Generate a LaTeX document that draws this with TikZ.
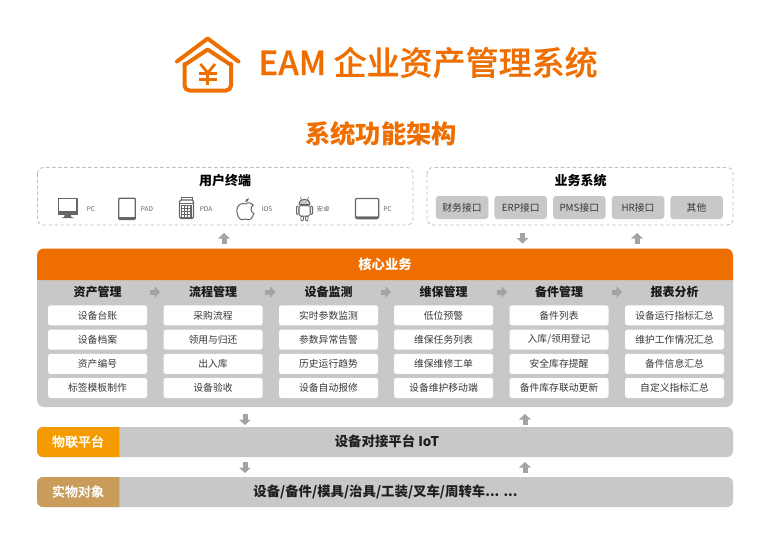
\documentclass[tikz,border=0pt]{standalone}
\usepackage{fontspec}
\setmainfont{Noto Sans CJK SC}
\newfontfamily\medfont[FakeBold=0.5]{Noto Sans CJK SC Medium}
\usetikzlibrary{arrows.meta}
\definecolor{brand}{HTML}{EE6E00}
\definecolor{panel}{HTML}{C8C8C8}
\definecolor{iotc}{HTML}{F59B00}
\definecolor{objc}{HTML}{C99C5C}
\definecolor{ico}{HTML}{666666}
\definecolor{dashc}{HTML}{BDBDBD}
\definecolor{arrowc}{HTML}{A3A3A3}
\tikzset{
  x=1pt,y=-1pt,
  every node/.style={inner sep=0pt,outer sep=0pt,font=\fontsize{9.8}{11}\selectfont,text=black!78},
  dashbox/.style={draw=dashc,line width=.8pt,dash pattern=on 3.5pt off 2.5pt,rounded corners=6pt},
  grp/.style={font=\fontsize{13}{15}\selectfont\bfseries,text=black},
  hdr/.style={font=\fontsize{12}{14}\selectfont\bfseries,text=black!90},
  itembox/.style={fill=white,rounded corners=2.5pt,minimum width=99pt,minimum height=20pt},
  ifbox/.style={fill=panel,rounded corners=3pt,minimum width=52.5pt,minimum height=23pt},
  barbox/.style={fill=panel,rounded corners=6pt,minimum width=696pt,minimum height=30pt},
  tag/.style={font=\fontsize{13}{15}\selectfont\medfont,text=white},
  barlabel/.style={font=\fontsize{13.4}{15}\selectfont\bfseries,text=black!88},
  tiny/.style={font=\fontsize{6.5}{8}\selectfont,text=black!62},
  blockarrow/.style={draw=arrowc,line width=5pt,-{Triangle[width=11.5pt,length=5.5pt]}},
  icon/.style={draw=ico,line width=1.3pt,line join=round},
}
\begin{document}
\begin{tikzpicture}
\useasboundingbox (0,0) rectangle (772,533);
% logo
\begin{scope}[draw=brand,line width=4pt,line cap=round,line join=round]
  \draw (177,61.5) -- (207.7,38.5) -- (238.5,61.5);
  \draw[rounded corners=5pt] (184.5,64) -- (184.5,90.5) -- (231,90.5) -- (231,64);
  \draw (184.5,65) -- (207.7,49.5) -- (231,65);
  \begin{scope}[line width=2.8pt,line cap=butt]
    \draw (200.5,64) -- (207.7,73) -- (215,64);
    \draw (207.7,73) -- (207.7,85);
    \draw (199,73.5) -- (216.5,73.5);
    \draw (199,79.5) -- (216.5,79.5);
  \end{scope}
\end{scope}
\node[anchor=west,font=\fontsize{33}{36}\selectfont\medfont,text=brand] (title) at (258.5,62.5) {EAM 企业资产管理系统};
\node[font=\fontsize{25.3}{30}\selectfont\bfseries,text=brand] (subtitle) at (381,133.5) {系统功能架构};
% user terminals
\draw[dashbox] (37.5,167.5) rectangle (413,225);
\node[grp] (users) at (225,181) {用户终端};
% monitor
\draw[icon] (58.5,198.5) rectangle (77,213);
\fill[ico] (57.8,210.5) rectangle (77.7,214.5);
\fill[ico] (65,214) -- (70.5,214) -- (71.5,217) -- (74,218) -- (61.5,218) -- (64,217) -- cycle;
\node[tiny] (l1) at (91,209) {PC};
% tablet
\draw[icon,rounded corners=1pt] (118.7,198.2) rectangle (135.3,219.5);
\fill[ico] (118.7,217.3) rectangle (135.3,219.8);
\node[tiny] (l2) at (147,209) {PAD};
% pda
\draw[icon,line width=1.1pt,rounded corners=1.5pt] (179.5,200) rectangle (193.5,218.5);
\draw[ico,line width=1pt] (181,200) -- (181,197.5) -- (192,197.5) -- (192,200);
\draw[ico,line width=1pt] (179.5,203.5) -- (193.5,203.5);
\draw[ico,line width=.5pt] (181.5,205.5) rectangle (191.6,217);
\draw[ico,line width=.5pt] (184.3,205.5) -- (184.3,217) (187.1,205.5) -- (187.1,217) (189.9,205.5) -- (189.9,217)
  (181.5,208.3) -- (191.6,208.3) (181.5,211.1) -- (191.6,211.1) (181.5,213.9) -- (191.6,213.9);
\node[tiny] (l3) at (206,209) {PDA};
% apple
\draw[ico,line width=1pt,line join=round] (245.5,204)
  .. controls (248,202) and (251.5,202.5) .. (253.3,205)
  .. controls (250.2,207) and (250.2,212) .. (254,213.7)
  .. controls (253,216.5) and (251,219.7) .. (248.7,219.7)
  .. controls (247.3,219.7) and (246.7,219) .. (245.2,219)
  .. controls (243.7,219) and (243,219.7) .. (241.7,219.7)
  .. controls (239,219.7) and (236.8,214.5) .. (236.8,210.5)
  .. controls (236.8,205) and (241.5,202.3) .. (245.5,204) -- cycle;
\fill[ico] (245,202.3) .. controls (245,200) and (247,198.3) .. (249,198) .. controls (249.2,200.3) and (247.5,202) .. (245,202.3) -- cycle;
\node[tiny] (l4) at (267,209) {IOS};
% android
\draw[icon,line width=1pt,rounded corners=1.5pt] (299,205.5) rectangle (310,216);
\draw[icon,line width=1pt,fill=ico!35] (299,204.5) .. controls (299,197.5) and (310,197.5) .. (310,204.5) -- cycle;
\draw[icon,line width=.8pt,rounded corners=1pt] (296.4,206) rectangle (298.2,214.5);
\draw[icon,line width=.8pt,rounded corners=1pt] (310.8,206) rectangle (312.6,214.5);
\draw[icon,line width=.8pt,rounded corners=1pt] (301,216) rectangle (303.4,221);
\draw[icon,line width=.8pt,rounded corners=1pt] (305.6,216) rectangle (308,221);
\draw[ico,line width=.7pt] (301.5,199.8) -- (300.5,197.3) (307.5,199.8) -- (308.5,197.3);
\node[tiny] (l5) at (323,209) {安卓};
% laptop
\draw[icon,rounded corners=1pt] (355.5,198.5) rectangle (378.7,217.3);
\fill[ico] (355,216.5) -- (379,216.5) -- (379,218) -- (377,219.3) -- (357,219.3) -- (355,218) -- cycle;
\node[tiny] (l6) at (387.5,209) {PC};
% business systems
\draw[dashbox] (427,167.5) rectangle (733,225);
\node[grp] (biz) at (580.5,181) {业务系统};
\node[ifbox] (if1) at (462,207.5) {财务接口};
\node[ifbox] (if2) at (520.7,207.5) {ERP接口};
\node[ifbox] (if3) at (579.3,207.5) {PMS接口};
\node[ifbox] (if4) at (638,207.5) {HR接口};
\node[ifbox] (if5) at (696.5,207.5) {其他};
% core panel
\fill[panel,rounded corners=7pt] (37,270) rectangle (733,407);
\fill[brand] (37,280) [rounded corners=7pt] -- (37,248.5) -- (733,248.5) [sharp corners] -- (733,280) -- cycle;
\node[font=\fontsize{13.3}{15}\selectfont\bfseries,text=white] (core) at (385,264.5) {核心业务};
\node[hdr] (h1) at (97.5,292) {资产管理};
\node[hdr] (h2) at (213,292) {流程管理};
\node[hdr] (h3) at (328.5,292) {设备监测};
\node[hdr] (h4) at (443.5,292) {维保管理};
\node[hdr] (h5) at (559,292) {备件管理};
\node[hdr] (h6) at (674.5,292) {报表分析};
\newcommand{\itemcol}[6]{%
  \node[itembox] (#1a) at (#2,315.3) {#3};
  \node[itembox] (#1b) at (#2,339.7) {#4};
  \node[itembox] (#1c) at (#2,363.9) {#5};
  \node[itembox] (#1d) at (#2,388) {#6};
}
\itemcol{c1}{97.5}{设备台账}{设备档案}{资产编号}{标签模板制作}
\itemcol{c2}{213}{采购流程}{领用与归还}{出入库}{设备验收}
\itemcol{c3}{328.5}{实时参数监测}{参数异常告警}{历史运行趋势}{设备自动报修}
\itemcol{c4}{443.5}{低位预警}{维保任务列表}{维保维修工单}{设备维护移动端}
\itemcol{c5}{559}{备件列表}{入库/领用登记}{安全库存提醒}{备件库存联动更新}
\itemcol{c6}{674.5}{设备运行指标汇总}{维护工作情况汇总}{备件信息汇总}{自定义指标汇总}
% bars
\node[barbox] (iot) at (385,442) {};
\fill[iotc] (119.3,427) [rounded corners=6pt] -- (37,427) -- (37,457) [sharp corners] -- (119.3,457) -- cycle;
\node[tag] (iottag) at (78,441.5) {物联平台};
\node[barlabel] (iotlabel) at (387,441.5) {设备对接平台 IoT};
\node[barbox] (obj) at (385,492) {};
\fill[objc] (119.3,477) [rounded corners=6pt] -- (37,477) -- (37,507) [sharp corners] -- (119.3,507) -- cycle;
\node[tag] (objtag) at (78,491.5) {实物对象};
\node[barlabel] (objlabel) at (385.5,491.5) {设备/备件/模具/治具/工装/叉车/周转车... ...};
% block arrows
\foreach \n/\ax/\ay/\bx/\by in {
  p1/224/243.5/224/233, p2/522.5/233/522.5/243.5, p3/637/243.5/637/233,
  p4/245/414/245/425, p5/525/425/525/414, p6/245/462/245/473, p7/525/473/525/462,
  p8/150/292/160/292, p9/265/292/275.5/292, p10/381/292/391/292, p11/497/292/507/292, p12/612/292/622/292}{
  \coordinate (\n s) at (\ax,\ay);
  \coordinate (\n e) at (\bx,\by);
  \draw[blockarrow] (\n s) -- (\n e);
}
\end{tikzpicture}
\end{document}
